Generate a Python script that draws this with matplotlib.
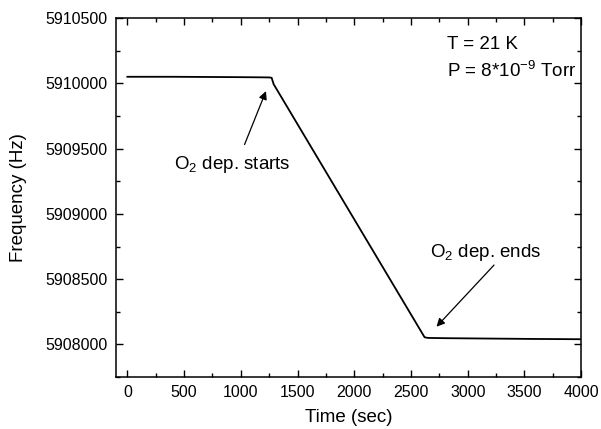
import numpy as np
import matplotlib
matplotlib.use('Agg')
import matplotlib.pyplot as plt
from matplotlib.ticker import MultipleLocator

plt.rcParams['font.family'] = ['Liberation Sans', 'DejaVu Sans']
plt.rcParams['mathtext.fontset'] = 'custom'
plt.rcParams['mathtext.rm'] = 'Liberation Sans'
plt.rcParams['mathtext.it'] = 'Liberation Sans:italic'
plt.rcParams['mathtext.bf'] = 'Liberation Sans:bold'

# Data
time_s = [0, 200, 400, 600, 800, 1000, 1150, 1250, 1272, 1290, 1300,
          2620, 2650, 2800, 3200, 3600, 4000]
freq_hz = [5910050, 5910050, 5910050, 5910049, 5910048, 5910047, 5910046,
           5910045, 5910042, 5909992, 5909978,
           5908055, 5908050, 5908048, 5908045, 5908042, 5908040]

x_ticks = [0, 500, 1000, 1500, 2000, 2500, 3000, 3500, 4000]
y_ticks = [5908000, 5908500, 5909000, 5909500, 5910000, 5910500]

fig = plt.figure(figsize=(6.01, 4.29), dpi=100)
ax = fig.add_axes([0.193, 0.121, 0.774, 0.837])

ax.plot(time_s, freq_hz, color='black', lw=1.3)

ax.set_xlim(-100, 4000)
ax.set_ylim(5907750, 5910500)
ax.set_xticks(x_ticks)
ax.set_yticks(y_ticks)
ax.set_yticklabels([str(v) for v in y_ticks])
ax.xaxis.set_minor_locator(MultipleLocator(250))
ax.yaxis.set_minor_locator(MultipleLocator(250))
ax.tick_params(which='both', direction='in', top=True, right=True,
               labelsize=11.5, width=1)
ax.tick_params(which='major', length=5, pad=6)
ax.tick_params(which='minor', length=3)
for sp in ax.spines.values():
    sp.set_linewidth(1.1)

ax.set_xlabel('Time (sec)', fontsize=13.5, labelpad=6)
ax.set_ylabel('Frequency (Hz)', fontsize=13.5, labelpad=13)

arrow = dict(arrowstyle='-|>', color='black', lw=0.9, mutation_scale=12,
             shrinkA=0, shrinkB=0)
ax.annotate('', xy=(1222, 5909940), xytext=(1033, 5909531), arrowprops=arrow)
ax.annotate('', xy=(2725, 5908136), xytext=(3232, 5908608), arrowprops=arrow)
ax.text(927, 5909377, 'O$_2$ dep. starts', ha='center', va='center',
        fontsize=13.5)
ax.text(3160, 5908708, 'O$_2$ dep. ends', ha='center', va='center',
        fontsize=13.5)

ax.text(0.712, 0.925, 'T = 21 K', transform=ax.transAxes, fontsize=13.5,
        va='center', ha='left')
ax.text(0.712, 0.853, 'P = 8*10$^{-9}$ Torr', transform=ax.transAxes,
        fontsize=13.5, va='center', ha='left')

fig.savefig('out.png', dpi=100)
